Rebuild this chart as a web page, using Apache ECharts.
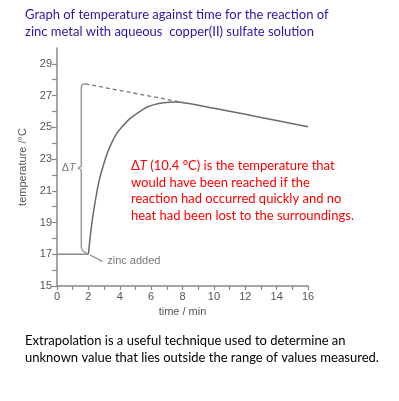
<!DOCTYPE html>
<html><head><meta charset="utf-8">
<script src="https://cdn.jsdelivr.net/npm/echarts@6/dist/echarts.min.js"></script>
<style>html,body{margin:0;padding:0;background:#fff}#c{width:399px;height:401px}</style>
</head><body><div id="c"></div>
<script>
// ---- data ----
const flatSeg = [[0, 17], [2, 17]];
const tempCurve = [[2, 17], [2.15, 18.4], [2.3, 19.5], [2.5, 20.7], [2.7, 21.7], [2.95, 22.6], [3.2, 23.35], [3.5, 24.05], [3.8, 24.6], [4.2, 25.1], [4.65, 25.55], [5.2, 25.95], [5.7, 26.25], [6.2, 26.43], [6.8, 26.55], [7.5, 26.6], [8.3, 26.52], [10, 26.2], [12, 25.82], [14, 25.43], [16, 25.04]];
const extrapolated = [[1.8, 27.74], [8.3, 26.52]];
const deltaBracket = [[2, 17], [1.65, 17.2], [1.55, 17.5], [1.55, 22.3], [1.35, 22.43], [1.55, 22.56], [1.55, 27.5], [1.62, 27.7], [1.8, 27.74]];
const zincPointer = [[2.1, 16.95], [2.9, 16.55]];
const zincLabelPos = [[3.2, 16.6]];
const deltaLabelPos = [[0.75, 22.43]];
const xTicks = [0,1,2,3,4,5,6,7,8,9,10,11,12,13,14,15,16];
const xLabels = [0,2,4,6,8,10,12,14,16];
const yTicks = [15,16,17,18,19,20,21,22,23,24,25,26,27,28,29];
const yLabels = [15,17,19,21,23,25,27,29];
const titleLines = ['Graph of temperature against time for the reaction of', 'zinc metal with aqueous  copper(II) sulfate solution'];
const noteLines = ['{i|Δ}{it|T}{r| (10.4 °C) is the temperature that}', 'would have been reached if the', 'reaction had occurred quickly and no', 'heat had been lost to the surroundings.'];
const footLines = ['Extrapolation is a useful technique used to determine an', 'unknown value that lies outside the range of values measured.'];

const axisFont = "'Liberation Sans Narrow', 'Liberation Sans', sans-serif";
const textFont = "Lato, 'Open Sans', sans-serif";
const chart = echarts.init(document.getElementById('c'));
const gray = '#6a6a6a';
chart.setOption({
  animation: false,
  grid: { left: 57, right: 91, top: 48, bottom: 115 },
  xAxis: {
    type: 'value', min: 0, max: 16, interval: 1,
    name: 'time / min', nameLocation: 'middle', nameGap: 20,
    nameTextStyle: { fontFamily: axisFont, fontSize: 11, color: '#555' },
    axisLine: { lineStyle: { color: '#888', width: 1.5 } },
    axisTick: { customValues: xTicks, length: 4, lineStyle: { color: '#888', width: 1.2 } },
    axisLabel: { customValues: xLabels, fontFamily: axisFont, fontSize: 11, color: '#555', margin: 5 },
    splitLine: { show: false }
  },
  yAxis: {
    type: 'value', min: 15, max: 30, interval: 1,
    name: 'temperature /°C', nameLocation: 'middle', nameGap: 25, nameRotate: 90,
    nameTextStyle: { fontFamily: axisFont, fontSize: 11, color: '#555' },
    axisLine: { show: true, lineStyle: { color: '#888', width: 1.5 } },
    axisTick: { show: true, customValues: yTicks, length: 5, lineStyle: { color: '#888', width: 1.2 } },
    axisLabel: { customValues: yLabels, fontFamily: axisFont, fontSize: 11, color: '#555', margin: 5 },
    splitLine: { show: false }
  },
  series: [
    { type: 'line', data: flatSeg, symbol: 'none', lineStyle: { color: '#888', width: 1.5 } },
    { type: 'line', data: tempCurve, symbol: 'none', smooth: 0.3, lineStyle: { color: gray, width: 1.5 } },
    { type: 'line', data: extrapolated, symbol: 'none', lineStyle: { color: '#777', width: 1.3, type: [4, 3] } },
    { type: 'line', data: deltaBracket, symbol: 'none', smooth: 0.2, lineStyle: { color: '#999', width: 1.5 } },
    { type: 'line', data: zincPointer, symbol: 'none', lineStyle: { color: '#888', width: 1.2 } },
    { type: 'scatter', data: zincLabelPos, symbolSize: 0, label: { show: true, position: 'right', distance: 0, formatter: 'zinc added', fontFamily: axisFont, fontSize: 11, color: '#555' } },
    { type: 'scatter', data: deltaLabelPos, symbolSize: 0, label: { show: true, position: 'inside', formatter: '{i|Δ}{it|T}', rich: { i: { fontFamily: axisFont, fontSize: 11, color: '#555' }, it: { fontFamily: axisFont, fontSize: 11, fontStyle: 'italic', color: '#555' } } } }
  ],
  graphic: [
    { type: 'text', left: 25, top: 6, style: { text: titleLines.join('\n'), fontFamily: textFont, fontSize: 13, lineHeight: 17, fill: '#2a17a8' } },
    { type: 'text', left: 131, top: 158, style: { text: noteLines.join('\n'), fontFamily: textFont, fontSize: 13, lineHeight: 16.5, fill: '#ff0000',
      rich: { i: { fontFamily: textFont, fontSize: 13, fill: '#ff0000' }, it: { fontFamily: textFont, fontSize: 13, fontStyle: 'italic', fill: '#ff0000' }, r: { fontFamily: textFont, fontSize: 13, fill: '#ff0000' } } } },
    { type: 'text', left: 25, top: 332, style: { text: footLines.join('\n'), fontFamily: textFont, fontSize: 13, lineHeight: 17, fill: '#000' } }
  ]
});
</script></body></html>
